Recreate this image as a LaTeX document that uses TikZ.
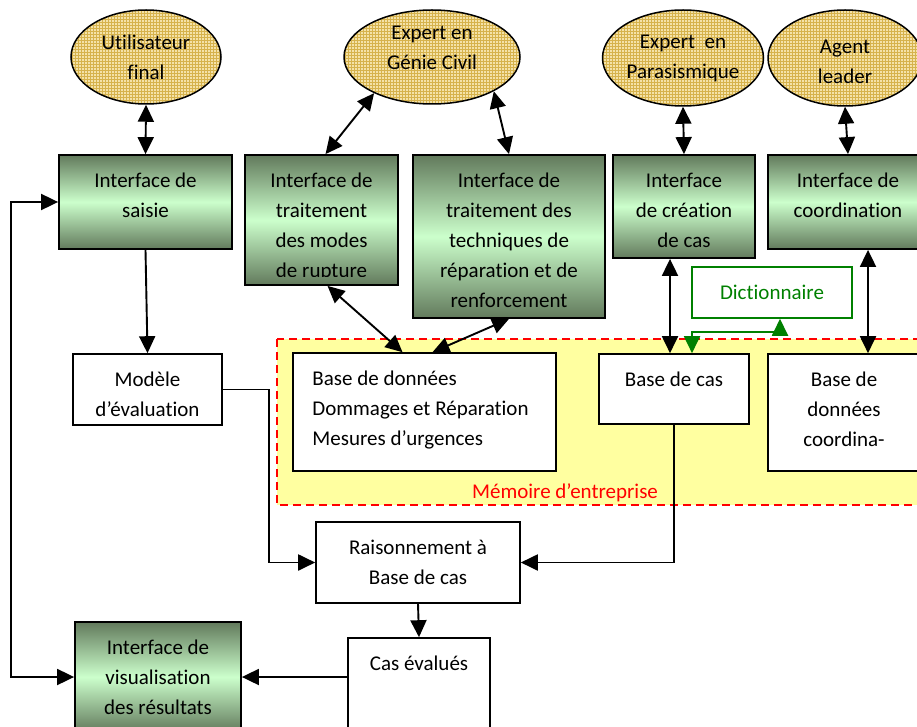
\documentclass[tikz,border=0pt]{standalone}
\usepackage{fontspec}
\setmainfont{Carlito}[Ligatures={TeX,NoCommon}]
\usetikzlibrary{shapes.geometric,arrows.meta,patterns}

\definecolor{acteurfond}{RGB}{244,226,168}
\definecolor{grille}{RGB}{214,178,76}
\definecolor{vertfonce}{RGB}{98,122,92}
\definecolor{vertclair}{RGB}{204,255,204}
\definecolor{memoire}{RGB}{255,255,160}
\definecolor{dico}{RGB}{0,128,0}

\tikzset{
  acteur/.style={ellipse, draw, line width=1.5pt, inner sep=0pt, align=center,
    preaction={fill=acteurfond}, pattern=grid, pattern color=grille},
  iface/.style={rectangle, draw, line width=1.8pt, inner sep=0pt,
    top color=vertfonce, bottom color=vertfonce, middle color=vertclair},
  boite/.style={rectangle, draw, line width=1.6pt, fill=white, inner sep=0pt},
  txt/.style={inner sep=0pt, align=center},
  dedans/.style={inner sep=0pt, align=center, anchor=north, yshift=-12.5pt},
  lien/.style={line width=1.9pt},
  >={Triangle[length=17pt,width=16pt]}
}

\begin{document}
\begin{tikzpicture}[x=1pt, y=-1pt, font=\fontsize{21}{30}\selectfont]
\useasboundingbox (0,0) rectangle (917,727);

% memoire d'entreprise
\draw[fill=memoire, draw=red, line width=1.5pt, dash pattern=on 8pt off 5pt] (277,339) rectangle (940,505);
\node[txt, text=red] (memlabel) at (565,493) {Mémoire d’entreprise};

% acteurs
\node[acteur, minimum width=150, minimum height=94] (user) at (146,57) {Utilisateur\\final};
\node[acteur, minimum width=176, minimum height=94] (civil) at (432,57) {};
\node[txt] (civiltxt) at (432,48) {Expert en\\Génie Civil};
\node[acteur, minimum width=161, minimum height=96] (para) at (683,58) {Expert\ \ en\\Parasismique};
\node[acteur, minimum width=154, minimum height=96] (agent) at (845,58) {};
\node[txt] (agenttxt) at (845,61.5) {Agent\\leader};

% interfaces
\node[iface, minimum width=173, minimum height=94] (saisie) at (145.5,202) {};
\node[dedans] (saisietxt) at (saisie.north) {\strut Interface de\\saisie};
\node[iface, minimum width=153, minimum height=130] (rupt) at (321.5,220) {};
\begin{scope}
  \clip (rupt.north west) rectangle ([yshift=9pt]rupt.south east);
  \node[dedans] (rupttxt) at (rupt.north) {\strut Interface de\\traitement\\des modes\\de rupture};
\end{scope}
\node[iface, minimum width=192, minimum height=163] (techn) at (509,236.5) {};
\node[dedans] (techntxt) at (techn.north) {\strut Interface de\\traitement des\\techniques de\\réparation et de\\renforcement};
\node[iface, minimum width=142, minimum height=103] (crea) at (684,206.5) {};
\node[dedans] (creatxt) at (crea.north) {\strut Interface\\de création\\de cas};
\node[iface, minimum width=160, minimum height=94] (coord) at (848,202) {};
\node[dedans] (coordtxt) at (coord.north) {\strut Interface de\\coordination};
\node[iface, minimum width=166, minimum height=110] (visu) at (158,677) {};
\node[dedans] (visutxt) at (visu.north) {\strut Interface de\\visualisation\\des résultats};

% boites
\node[boite, minimum width=149, minimum height=71] (modele) at (147.5,389.5) {};
\node[dedans] (modeletxt) at (modele.north) {\strut Modèle\\d’évaluation};
\node[boite, minimum width=263, minimum height=118] (bdd) at (424.5,412) {};
\node[dedans, anchor=north west, align=left] (bddtxt) at ([xshift=20pt]bdd.north west) {\strut Base de données\\Dommages et Réparation\\Mesures d’urgences};
\node[boite, minimum width=150, minimum height=70] (bcas) at (674,389) {};
\node[dedans] (bcastxt) at (bcas.north) {\strut Base de cas};
\node[boite, minimum width=152, minimum height=117] (bdcoord) at (844,412.5) {};
\node[dedans] (bdcoordtxt) at (bdcoord.north) {\strut Base de\\données\\coordina-};
\node[boite, minimum width=204, minimum height=81] (raison) at (418,562.5) {};
\node[dedans] (raisontxt) at (raison.north) {\strut Raisonnement à\\Base de cas};
\node[boite, minimum width=142, minimum height=124] (cas) at (419,700) {};
\node[dedans] (castxt) at (cas.north) {\strut Cas évalués};
\node[rectangle, draw=dico, line width=1.5pt, minimum width=160, minimum height=51, text=dico] (dict) at (772,292.5) {Dictionnaire};

% liens
\draw[lien, <->] (user.south) -- (saisie.north);
\draw[lien, <->] (civil.212) -- ([xshift=4pt]rupt.north);
\draw[lien, <->] (civil.331) -- (techn.north);
\draw[lien, <->] (para.south) -- (crea.north);
\draw[lien, <->] (agent.south) -- (coord.north);
\draw[lien, ->] (saisie.south) -- (modele.north);
\draw[lien, <->] ([xshift=6pt]rupt.south) -- ([xshift=-22pt]bdd.north);
\draw[lien, <->] (techn.south) -- ([xshift=8pt]bdd.north);
\draw[lien, <->] ([xshift=-14pt]crea.south) -- ([xshift=-14pt]crea.south |- bcas.north);
\draw[lien, <->] ([xshift=20pt]coord.south) -- ([xshift=20pt]coord.south |- bdcoord.north);
\draw[lien, <->, dico] ([xshift=8pt]dict.south) -- ++(0,13) -| ([xshift=18pt]bcas.north);
\draw[lien, ->] (modele.east) -- ++(46,0) |- (raison.west);
\draw[lien, ->] (bcas.south) |- (raison.east);
\draw[lien, ->] (raison.south) -- (cas.north);
\draw[lien, ->] (cas.west |- visu.east) -- (visu.east);
\draw[lien, <->] (saisie.west) -- ++(-47,0) |- (visu.west);
\end{tikzpicture}
\end{document}
